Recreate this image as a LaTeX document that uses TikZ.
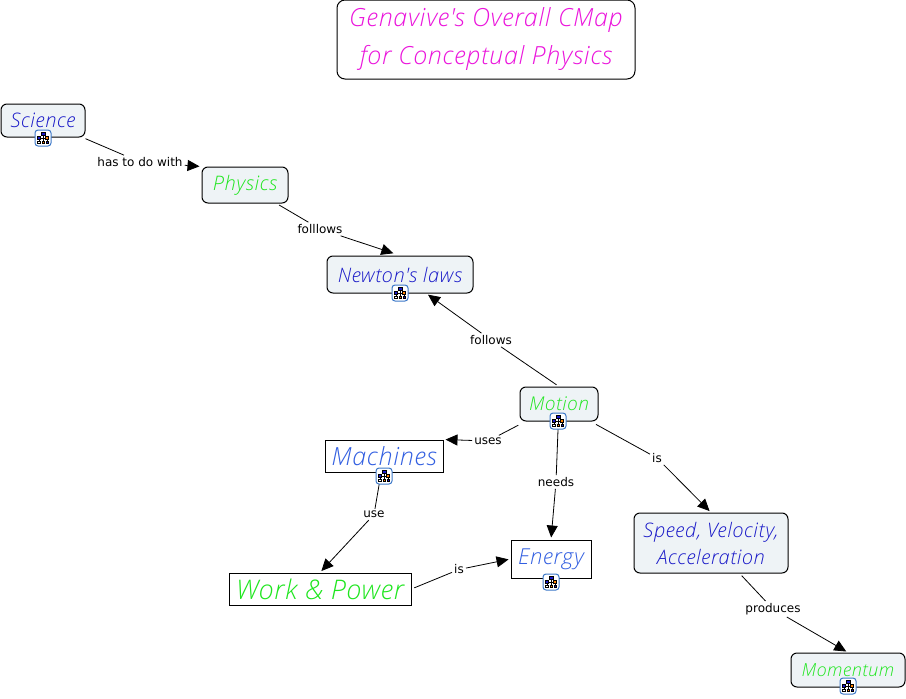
\documentclass[tikz,border=0pt]{standalone}
\usepackage{fontspec}
\setmainfont{DejaVu Sans}
\newfontfamily\handfont[ItalicFont=Open Sans Light Italic,LetterSpace=3]{Open Sans Light}
\definecolor{magenta1}{RGB}{235, 20, 220}
\definecolor{blue1}{RGB}{25, 25, 200}
\definecolor{blue2}{RGB}{50, 95, 225}
\definecolor{green1}{RGB}{30, 230, 30}
\definecolor{fill1}{RGB}{238, 243, 246}
\definecolor{iconblue}{RGB}{60, 120, 200}
\usetikzlibrary{arrows.meta, positioning, calc}
\tikzset{
  concept/.style={draw=black, fill=fill1, rounded corners=6pt, line width=1pt, inner sep=0pt, font=\handfont\itshape\fontsize{20}{27}\selectfont, align=center},
  plainbox/.style={draw=black, fill=white, line width=1pt, inner sep=0pt},
  linklabel/.style={font=\fontsize{12}{14}\selectfont, text=black, inner sep=2pt},
  link/.style={draw=black, line width=0.8pt, shorten <=3pt},
  linkto/.style={draw=black, line width=0.8pt, -{Triangle[length=12pt, width=11pt]}, shorten >=2pt},
  iconbox/.style={draw=iconblue, fill=white, rounded corners=3pt, line width=1pt, minimum size=16pt, inner sep=0pt},
  cmaptree/.pic={
    \draw[line width=0.6pt] (0,-2) -- (0,4) (-4,0) -- (4,0) (-4,0) -- (-4,3.5) (4,0) -- (4,3.5);
    \filldraw[draw=black, fill=blue1, line width=0.4pt] (-2,-5.5) rectangle (2,-3);
    \filldraw[draw=black, fill=blue1, line width=0.4pt] (-5.5,-1.5) rectangle (-2.5,1);
    \filldraw[draw=black, fill=orange, line width=0.4pt] (2.5,-1.5) rectangle (5.5,1);
    \filldraw[draw=black, fill=white, line width=0.4pt] (-5.5,3) rectangle (-3,5.5);
    \filldraw[draw=black, fill=orange, line width=0.4pt] (-1.2,3) rectangle (1.2,5.5);
    \filldraw[draw=black, fill=blue1, line width=0.4pt] (3,3) rectangle (5.5,5.5);
  }
}
\newcommand{\cmapicon}[2]{\node[iconbox] (#1) at (#2) {}; \pic at (#1) {cmaptree};}

\begin{document}
\begin{tikzpicture}[x=1pt, y=-1pt]
  \useasboundingbox (0,0) rectangle (906,699);

  % concepts
  \node[draw=black, fill=white, rounded corners=8pt, line width=1pt, minimum width=298pt, minimum height=79pt, inner sep=0pt, align=center, text=magenta1, font=\handfont\itshape\fontsize{25}{38}\selectfont] (title) at (486,39.5) {Genavive's Overall CMap\\for Conceptual Physics};
  \node[concept, text=blue1, minimum width=84pt, minimum height=33pt] (science) at (43,120.5) {Science};
  \node[concept, text=green1, minimum width=86pt, minimum height=36pt] (physics) at (245,185) {Physics};
  \node[concept, text=blue1, minimum width=146pt, minimum height=37pt] (newton) at (400,274.5) {Newton's laws};
  \node[concept, text=green1, minimum width=78pt, minimum height=34pt, font=\handfont\itshape\fontsize{19}{24}\selectfont] (motion) at (559,404) {Motion};
  \node[plainbox, text=blue2, minimum width=118pt, minimum height=32pt, font=\handfont\itshape\fontsize{25}{30}\selectfont] (machines) at (384,456) {Machines};
  \node[plainbox, text=blue2, minimum width=80pt, minimum height=38pt, font=\handfont\itshape\fontsize{22}{28}\selectfont] (energy) at (551,559) {Energy};
  \node[plainbox, text=green1, minimum width=182pt, minimum height=32pt, font=\handfont\itshape\fontsize{27}{32}\selectfont] (work) at (320,589) {Work \& Power};
  \node[concept, text=blue1, minimum width=154pt, minimum height=60pt] (speed) at (711,543) {Speed, Velocity,\\Acceleration};
  \node[concept, text=green1, minimum width=114pt, minimum height=34pt, font=\handfont\itshape\fontsize{18}{24}\selectfont] (momentum) at (848,670) {Momentum};

  % linking phrases
  \node[linklabel] (hasto) at (140,162) {has to do with};
  \node[linklabel] (folllows) at (320,229) {folllows};
  \node[linklabel] (follows) at (491,340) {follows};
  \node[linklabel] (uses) at (488,441) {uses};
  \node[linklabel] (is1) at (657,458) {is};
  \node[linklabel] (needs) at (556,482) {needs};
  \node[linklabel] (use) at (374,514.5) {use};
  \node[linklabel] (is2) at (459,569.5) {is};
  \node[linklabel] (produces) at (773,609) {produces};

  % connectors
  \draw[link] (science) -- (hasto);
  \draw[linkto] (hasto) -- (physics.north west);
  \draw[link] (physics) -- (folllows);
  \draw[linkto, shorten >=7pt] (folllows) -- (newton.north);
  \draw[link] (motion.north) -- (follows);
  \draw[linkto] (follows) -- (newton);
  \draw[link, shorten <=8pt] (motion) -- (uses);
  \draw[linkto] (uses) -- (machines.north east);
  \draw[link, shorten <=6pt] (motion) -- (is1);
  \draw[linkto] (is1) -- (speed.north);
  \draw[link] (motion) -- (needs);
  \draw[linkto] (needs) -- (energy.north);
  \draw[link] (machines) -- (use);
  \draw[linkto] (use) -- (work.north);
  \draw[link] (work.east) -- (is2);
  \draw[linkto] (is2) -- (energy.west);
  \draw[link] (speed) -- (produces);
  \draw[linkto] (produces) -- (momentum.north);

  % map icons
  \cmapicon{scienceicon}{43,138}
  \cmapicon{newtonicon}{400,293}
  \cmapicon{motionicon}{558,421}
  \cmapicon{machinesicon}{384,476}
  \cmapicon{energyicon}{551,582}
  \cmapicon{momentumicon}{848,686}
\end{tikzpicture}
\end{document}
